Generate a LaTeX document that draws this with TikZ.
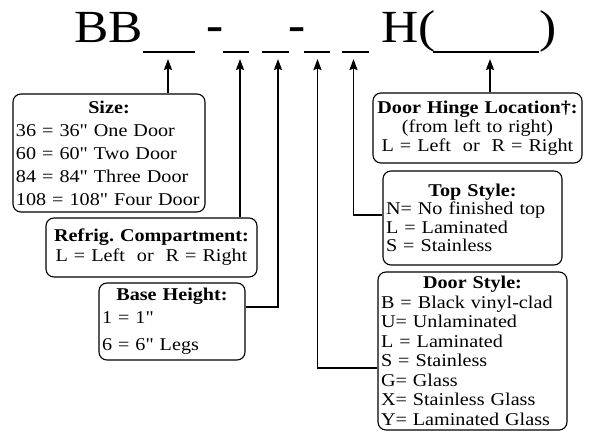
\documentclass[tikz,border=0pt]{standalone}
\usepackage{fontspec}
\setmainfont[FakeStretch=1.12, Ligatures=TeXOff]{Liberation Serif}
\usetikzlibrary{arrows.meta}
\newcommand\boxhead[1]{\hbox to\hsize{\hss\bfseries #1\hss}\par}
\begin{document}
\begin{tikzpicture}[x=1pt,y=-1pt,
  box/.style={draw, line width=1.1pt, rounded corners=8pt, inner xsep=3pt, inner ysep=0pt, align=left},
  bfont/.style={font=\fontsize{18}{#1}\selectfont},
  conn/.style={line width=1.8pt},
  arr/.style={conn, -{Stealth[length=11pt,width=8pt,inset=1.5pt]}},
  ttl/.style={font=\fontsize{46}{50}\selectfont, inner sep=0pt, anchor=base west},
  uline/.style={line width=1.5pt}]
\useasboundingbox (0,0) rectangle (589,431);

% title
\node[ttl] (bb) at (74,42) {BB};
\node[ttl, font=\fontsize{46}{50}\selectfont\bfseries] (d1) at (206,40) {-};
\node[ttl, font=\fontsize{46}{50}\selectfont\bfseries] (d2) at (288,40) {-};
\node[ttl] (hp) at (381,42) {H(};
\node[ttl] (cp) at (539,42) {)};
\draw[uline] (143,52) -- (195,52);
\draw[uline] (223,52) -- (249,52);
\draw[uline] (262,52) -- (289,52);
\draw[uline] (304,52) -- (330,52);
\draw[uline] (342,52) -- (369,52);
\draw[uline] (433,52) -- (539,52);

\coordinate (t1) at (168,59);
\coordinate (t2) at (240,59);
\coordinate (t3) at (278,59);
\coordinate (t4) at (317.5,59);
\coordinate (t5) at (353.5,59);
\coordinate (t6) at (490,59);

% boxes
\node[box, bfont=23, minimum width=192pt, minimum height=118pt, text width=186pt] (size) at (109,153)
 {\boxhead{Size:}36 = 36" One Door\\60 = 60" Two Door\\84 = 84" Three Door\\108 = 108" Four Door};
\node[box, bfont=20, align=center, minimum width=211pt, minimum height=59pt, text width=205pt] (refrig) at (151.5,247.5)
 {\textbf{Refrig.\ Compartment:}\\L = Left\ \ or\ \ R = Right};
\node[box, bfont=23, minimum width=146pt, minimum height=77pt, text width=140pt] (base) at (172,321.5)
 {\boxhead{Base Height:}1 = 1"\\[4pt]6 = 6" Legs};
\node[box, bfont=19, align=center, minimum width=209pt, minimum height=70pt, text width=203pt] (hinge) at (477.5,128)
 {\textbf{Door Hinge Location†:}\\(from left to right)\\L = Left\ \ or\ \ R = Right};
\node[box, bfont=18.5, minimum width=179pt, minimum height=94pt, text width=173pt] (top) at (472.5,218)
 {\boxhead{Top Style:}N= No finished top\\L = Laminated\\S = Stainless};
\node[box, bfont=19.5, minimum width=189pt, minimum height=158pt, text width=183pt] (door) at (472.5,351)
 {\boxhead{Door Style:}B = Black vinyl-clad\\U= Unlaminated\\L = Laminated\\S = Stainless\\G= Glass\\X= Stainless Glass\\Y= Laminated Glass};

% connectors
\draw[arr] (size.north -| t1) -- (t1);
\draw[arr] (refrig.north -| t2) -- (t2);
\draw[arr] ([yshift=14.5pt]base.east) -| (t3);
\draw[arr] ([yshift=-17pt]door.west) -| (t4);
\draw[arr] ([yshift=3pt]top.west) -| (t5);
\draw[arr] (hinge.north -| t6) -- (t6);
\end{tikzpicture}
\end{document}
